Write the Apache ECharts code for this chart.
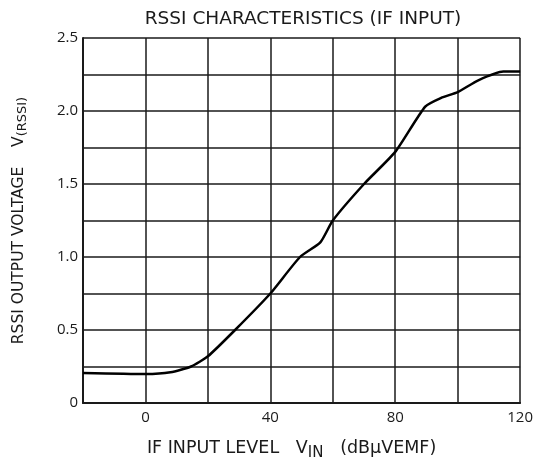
<!DOCTYPE html>
<html>
<head>
<meta charset="utf-8">
<script src="https://cdn.jsdelivr.net/npm/echarts@6/dist/echarts.min.js"></script>
<style>
  html, body { margin: 0; padding: 0; background: #fff; }
  #chart { width: 536px; height: 470px; }
</style>
</head>
<body>
<div id="chart"></div>
<script>
// 曲线数据
const inputLevel = [-20, 0, 8, 14.6, 20, 28.7, 40, 49.5, 56, 60, 70, 80, 89.6, 94.7, 100, 106.6, 114.6, 120];
const rssiVolt = [0.205, 0.198, 0.21, 0.25, 0.32, 0.5, 0.75, 1.0, 1.1, 1.25, 1.5, 1.72, 2.03, 2.09, 2.13, 2.21, 2.27, 2.27];

const chart = echarts.init(document.getElementById('chart'));
const ink = '#1a1a1a';
const font = 'Open Sans';
const wide = 'DejaVu Sans';

const option = {
    backgroundColor: '#fff',
    animation: false,
    title: {
        text: 'RSSI CHARACTERISTICS (IF INPUT)',
        left: 298, top: 5, textAlign: 'center',
        textStyle: { fontFamily: wide, fontSize: 18.5, fontWeight: 'normal', color: ink }
    },
    grid: { left: 83, right: 12, top: 38, bottom: 67 },
    xAxis: {
        type: 'value', min: -20, max: 120, interval: 20,
        name: '{n|IF INPUT LEVEL   V}{s|IN}{n|   (dBμVEMF)}',
        nameLocation: 'middle', nameGap: 33,
        nameTextStyle: {
            padding: [0, 0, 0, -20],
            rich: {
                n: { fontFamily: wide, fontSize: 17.5, color: ink },
                s: { fontFamily: wide, fontSize: 15, color: ink, padding: [10, 0, 0, 0] }
            }
        },
        axisLine: { lineStyle: { color: ink, width: 2 } },
        axisTick: { show: false },
        axisLabel: {
            fontFamily: font, fontSize: 15, color: ink, margin: 7,
            formatter: v => (v % 40 === 0 ? String(v) : '')
        },
        splitLine: { lineStyle: { color: ink, width: 1.5 } }
    },
    yAxis: {
        type: 'value', min: 0, max: 2.5, interval: 0.25,
        name: '{n|RSSI OUTPUT VOLTAGE    V}{s|(RSSI)}',
        nameLocation: 'middle', nameGap: 54, nameRotate: 90,
        nameTextStyle: {
            rich: {
                n: { fontFamily: wide, fontSize: 15.5, color: ink },
                s: { fontFamily: wide, fontSize: 13, color: ink, padding: [8, 0, 0, 0] }
            }
        },
        axisLine: { show: true, onZero: false, lineStyle: { color: ink, width: 2 } },
        axisTick: { show: false },
        axisLabel: {
            fontFamily: font, fontSize: 15, color: ink, margin: 5,
            formatter: v => {
                if (Math.abs(v * 2 - Math.round(v * 2)) > 1e-6) return '';
                return v === 0 ? '0' : v.toFixed(1);
            }
        },
        splitLine: { lineStyle: { color: ink, width: 1.5 } }
    },
    series: [{
        type: 'line',
        data: inputLevel.map((x, i) => [x, rssiVolt[i]]),
        smooth: 0.2,
        showSymbol: false,
        lineStyle: { color: '#000', width: 2.5 }
    }]
};
chart.setOption(option);
</script>
</body>
</html>
